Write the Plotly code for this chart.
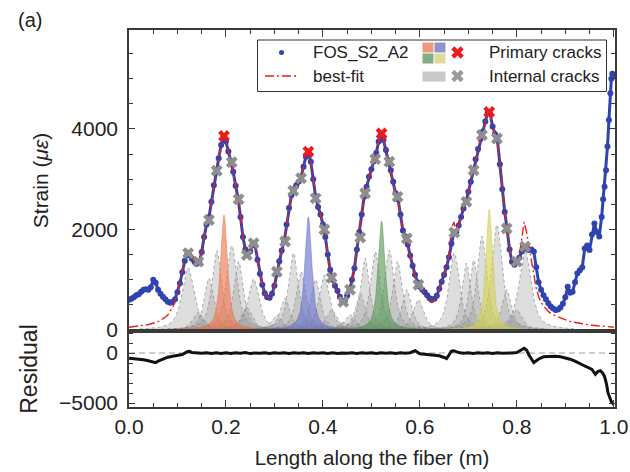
import numpy as np
import plotly.graph_objects as go

# ---------------- data ----------------
# FOS_S2_A2 measured strain (micro-strain), sampled every 0.005 m then a denser tail
fos_x = [round(0.005 * i, 3) for i in range(196)] + [0.978, 0.981, 0.984, 0.987, 0.990, 0.993, 0.995, 0.997, 0.999]
fos_strain = [
    600, 620, 650, 690, 710, 760, 800, 810, 800, 850,
    1000, 940, 800, 720, 660, 610, 560, 540, 560, 610,
    750, 930, 1150, 1380, 1500, 1480, 1420, 1360, 1320, 1360,
    1550, 1850, 2100, 2250, 2550, 2880, 3150, 3420, 3680, 3860,
    3750, 3550, 3370, 3150, 2870, 2620, 2250, 1850, 1600, 1520,
    1560, 1710, 1680, 1400, 1120, 900, 730, 650, 640, 720,
    880, 1120, 1370, 1580, 1760, 2100, 2430, 2680, 2800, 2880,
    2950, 3050, 3250, 3450, 3550, 3350, 3000, 2650, 2450, 2300,
    2100, 1850, 1500, 1200, 1000, 880, 780, 660, 570, 580,
    680, 790, 1000, 1230, 1600, 1950, 2300, 2650, 2850, 3050,
    3200, 3360, 3520, 3750, 3910, 3780, 3580, 3380, 3180, 2950,
    2720, 2600, 2300, 1980, 1860, 1700, 1480, 1280, 1100, 950,
    860, 800, 750, 690, 630, 600, 620, 680, 820, 960,
    1100, 1250, 1450, 1720, 1940, 1950, 2080, 2250, 2420, 2550,
    2750, 2950, 3170, 3400, 3600, 3800, 3950, 4150, 4330, 4300,
    4050, 3900, 3780, 3300, 2800, 2350, 2000, 1600, 1360, 1300,
    1360, 1440, 1560, 1650, 1620, 1590, 1600, 1560, 1250, 950,
    800, 690, 610, 530, 470, 430, 400, 410, 450, 520,
    650, 860, 740, 760, 950, 1130, 1190, 1250, 1620, 1680,
    1590, 1900, 2120, 1950, 1860, 2250,
    2600, 2850, 3180, 3650, 4180, 4710, 5000, 5100, 5050,
]

# best-fit curve (micro-strain) every 0.005 m
fit_x = [round(0.005 * i, 3) for i in range(201)]
fit_strain = [
    55, 60, 65, 70, 75, 85, 95, 100, 110, 120,
    135, 150, 165, 190, 220, 260, 300, 370, 450, 560,
    740, 950, 1200, 1460, 1620, 1560, 1440, 1370, 1330, 1370,
    1550, 1850, 2100, 2250, 2550, 2880, 3150, 3420, 3680, 3860,
    3750, 3550, 3370, 3150, 2870, 2620, 2250, 1850, 1600, 1520,
    1560, 1710, 1680, 1400, 1120, 900, 730, 650, 640, 720,
    880, 1120, 1370, 1580, 1760, 2100, 2430, 2680, 2800, 2880,
    2950, 3050, 3250, 3450, 3550, 3350, 3000, 2650, 2450, 2300,
    2100, 1850, 1500, 1200, 1000, 880, 780, 660, 570, 580,
    680, 790, 1000, 1230, 1600, 1950, 2300, 2650, 2850, 3050,
    3200, 3360, 3520, 3750, 3910, 3780, 3580, 3380, 3180, 2950,
    2720, 2600, 2300, 1980, 1860, 1700, 1480, 1280, 1100, 950,
    860, 800, 720, 640, 570, 550, 590, 670, 820, 960,
    1100, 1260, 1500, 2000, 2150, 1980, 2080, 2250, 2420, 2550,
    2750, 2950, 3170, 3400, 3600, 3800, 3950, 4150, 4330, 4300,
    4050, 3900, 3780, 3300, 2800, 2350, 2000, 1600, 1340, 1300,
    1350, 1480, 1800, 2150, 1950, 1650, 1400, 1100, 830, 660,
    550, 480, 420, 370, 330, 300, 280, 260, 240, 220,
    200, 185, 170, 160, 150, 140, 130, 120, 115, 110,
    100, 95, 90, 85, 80, 75, 70, 65, 62, 60,
    55,
]

# residual (fit - data)
res_x = [0.00, 0.01, 0.02, 0.03, 0.04, 0.05, 0.055, 0.06, 0.07, 0.08, 0.09, 0.10, 0.11, 0.12, 0.125,
         0.13, 0.14, 0.15, 0.16, 0.17, 0.18, 0.19, 0.20, 0.21, 0.22, 0.23, 0.24, 0.25, 0.26, 0.27,
         0.28, 0.29, 0.30, 0.31, 0.32, 0.33, 0.34, 0.35, 0.36, 0.37, 0.38, 0.39, 0.40, 0.41, 0.42,
         0.43, 0.44, 0.45, 0.46, 0.47, 0.48, 0.49, 0.50, 0.51, 0.52, 0.53, 0.54, 0.55, 0.56, 0.57,
         0.58, 0.59, 0.60, 0.61, 0.62, 0.63, 0.64, 0.65, 0.655, 0.66, 0.665, 0.67, 0.68, 0.69, 0.70,
         0.71, 0.72, 0.73, 0.74, 0.75, 0.76, 0.77, 0.78, 0.79, 0.80, 0.81, 0.815, 0.82, 0.825, 0.835,
         0.845, 0.855, 0.87, 0.88, 0.89, 0.90, 0.91, 0.92, 0.93, 0.94, 0.945, 0.95, 0.955, 0.962, 0.967,
         0.972, 0.977, 0.981, 0.985, 0.988, 0.992, 0.995, 1.0]
res_val = [-520, -560, -620, -680, -780, -950, -960, -820, -580, -420, -320, -220, -150, 120, 160,
           40, 0, -20, 30, -40, 20, -50, 30, -40, 20, -30, 40, -60, 10, -30,
           30, -40, 20, -30, 30, -50, 20, -30, 30, -40, 20, -30, 30, -40, 20,
           -60, 10, -30, 30, -40, 20, -30, 30, -40, 20, -30, 30, -40, 20, -30,
           30, 230, -80, -120, -200, -250, -280, -450, -560, -200, 180, 230, 40, -30, 20,
           -40, 30, -30, 20, -40, 30, -30, 20, 0, 40, 380, 480, 300, -200, -950,
           -600, -380, -330, -320, -380, -480, -620, -820, -1100, -1300, -1400, -1500, -1650, -2130, -1850,
           -1770, -2000, -2350, -3100, -3970, -4500, -4870, -5160]

# crack positions (m) and strain at the crack (micro-strain)
primary_x = [0.196, 0.370, 0.521, 0.743]
primary_strain = [3860, 3550, 3910, 4340]
internal_x = [0.122, 0.143, 0.165, 0.181, 0.212, 0.226, 0.243, 0.257, 0.305, 0.322, 0.339,
              0.355, 0.385, 0.403, 0.418, 0.442, 0.456, 0.477, 0.487, 0.508, 0.537, 0.554,
              0.573, 0.597, 0.671, 0.696, 0.711, 0.728, 0.759, 0.779, 0.800, 0.817]
internal_strain = [1530, 1360, 2190, 3170, 3340, 2600, 1490, 1725, 1160, 1760, 2770,
                   3020, 2620, 2000, 1040, 560, 800, 1840, 2720, 3400, 3350, 2650,
                   1820, 900, 1940, 2550, 3180, 3880, 3810, 2020, 1360, 1660]

# fitted peak components: amplitude (micro-strain) and FWHM (m)
primary_amp = [2290, 2250, 2170, 2400]
primary_fwhm = [0.017, 0.017, 0.017, 0.016]
internal_amp = [1230, 350, 1030, 1580, 1680, 1360, 450, 1015, 300, 630, 1530,
                1160, 1000, 1090, 400, 150, 300, 730, 1430, 1560, 1590, 1360,
                800, 600, 1530, 1330, 1390, 1860, 2090, 800, 400, 1590]
internal_fwhm = [0.03, 0.026, 0.024, 0.024, 0.026, 0.024, 0.026, 0.028, 0.026, 0.024, 0.024,
                 0.024, 0.024, 0.026, 0.026, 0.026, 0.026, 0.024, 0.022, 0.024, 0.024, 0.024,
                 0.024, 0.026, 0.026, 0.022, 0.022, 0.024, 0.026, 0.024, 0.026, 0.03]

# ---------------- styling ----------------
FONT = "Liberation Sans, Arial, sans-serif"
TXT = "#222222"
AX = "#3a3a3a"
BLUE = "#2f44b0"
primary_fill = ["rgba(240,115,75,0.62)", "rgba(100,110,200,0.62)",
                "rgba(85,150,85,0.62)", "rgba(210,210,85,0.65)"]
primary_line = ["rgba(235,110,70,0.8)", "rgba(95,105,195,0.8)",
                "rgba(80,145,80,0.8)", "rgba(200,200,80,0.8)"]


def pseudo_voigt(c, a, w):
    xs = np.arange(max(0.0, c - 0.1), min(1.0, c + 0.1) + 1e-9, 0.001)
    d = (xs - c) / (w / 2.0)
    lor = 1.0 / (1.0 + d ** 2)
    gau = np.exp(-np.log(2) * d ** 2)
    return xs, a * (0.75 * lor + 0.25 * gau)


fig = go.Figure()

for c, a, w in zip(internal_x, internal_amp, internal_fwhm):
    xs, ys = pseudo_voigt(c, a, w)
    fig.add_trace(go.Scatter(x=xs, y=ys, mode="lines", fill="tozeroy",
                             fillcolor="rgba(150,150,150,0.32)",
                             line=dict(color="rgba(120,120,120,0.75)", width=0.8, dash="dot"),
                             hoverinfo="skip", showlegend=False, xaxis="x", yaxis="y"))

for c, a, w, fc, lc in zip(primary_x, primary_amp, primary_fwhm, primary_fill, primary_line):
    xs, ys = pseudo_voigt(c, a, w)
    fig.add_trace(go.Scatter(x=xs, y=ys, mode="lines", fill="tozeroy", fillcolor=fc,
                             line=dict(color=lc, width=0.6),
                             hoverinfo="skip", showlegend=False, xaxis="x", yaxis="y"))

fig.add_trace(go.Scatter(x=fos_x, y=fos_strain, mode="lines+markers", name="FOS_S2_A2",
                         line=dict(color=BLUE, width=3),
                         marker=dict(size=6, color=BLUE), showlegend=False,
                         xaxis="x", yaxis="y"))
fig.add_trace(go.Scatter(x=fit_x, y=fit_strain, mode="lines", name="best-fit",
                         line=dict(color="#e8211b", width=1.4, dash="9px,3px,2px,3px"),
                         showlegend=False, xaxis="x", yaxis="y"))
fig.add_trace(go.Scatter(x=internal_x, y=internal_strain, mode="markers", name="Internal cracks",
                         marker=dict(symbol="x", size=10.5, color="#8e8e8e", line=dict(width=0)),
                         showlegend=False, xaxis="x", yaxis="y"))
fig.add_trace(go.Scatter(x=primary_x, y=primary_strain, mode="markers", name="Primary cracks",
                         marker=dict(symbol="x", size=10.5, color="#f01a1a", line=dict(width=0)),
                         showlegend=False, xaxis="x", yaxis="y"))

fig.add_trace(go.Scatter(x=res_x, y=res_val, mode="lines", name="Residual",
                         line=dict(color="#111111", width=3), showlegend=False,
                         xaxis="x2", yaxis="y2"))

# ---------------- layout geometry ----------------
W, H = 630, 472
ML, MR, MT, MB = 129, 15, 30, 65
PW, PH = W - ML - MR, H - MT - MB
split = 76 / PH


def px(p):
    return (p - ML) / PW


def py(p):
    return (H - MB - p) / PH


# manual legend glyph markers on an invisible overlay axis
fig.add_trace(go.Scatter(x=[px(281.5)], y=[py(52.5)], mode="markers",
                         marker=dict(size=5, color=BLUE), showlegend=False,
                         hoverinfo="skip", xaxis="x3", yaxis="y3"))
fig.add_trace(go.Scatter(x=[px(457.5)], y=[py(52.5)], mode="markers",
                         marker=dict(symbol="x", size=11, color="#f01a1a", line=dict(width=0)),
                         showlegend=False, hoverinfo="skip", xaxis="x3", yaxis="y3"))
fig.add_trace(go.Scatter(x=[px(457.5)], y=[py(76)], mode="markers",
                         marker=dict(symbol="x", size=11, color="#9a9a9a", line=dict(width=0)),
                         showlegend=False, hoverinfo="skip", xaxis="x3", yaxis="y3"))

shapes = [
    dict(type="rect", xref="paper", yref="paper", x0=px(257.5), x1=px(606.5), y0=py(91.5), y1=py(40),
         line=dict(color="#333333", width=1), fillcolor="white", layer="below"),
    dict(type="line", xref="paper", yref="paper", x0=px(265), x1=px(298), y0=py(76), y1=py(76),
         line=dict(color="#e8211b", width=1.3, dash="9px,3px,2px,3px")),
    dict(type="rect", xref="paper", yref="paper", x0=px(422.5), x1=px(433.5), y0=py(52.5), y1=py(42.5),
         line=dict(width=0), fillcolor="#f2967c"),
    dict(type="rect", xref="paper", yref="paper", x0=px(434.5), x1=px(445.5), y0=py(52.5), y1=py(42.5),
         line=dict(width=0), fillcolor="#8f95d0"),
    dict(type="rect", xref="paper", yref="paper", x0=px(422.5), x1=px(433.5), y0=py(63.5), y1=py(53.5),
         line=dict(width=0), fillcolor="#83ad84"),
    dict(type="rect", xref="paper", yref="paper", x0=px(434.5), x1=px(445.5), y0=py(63.5), y1=py(53.5),
         line=dict(width=0), fillcolor="#dcdc98"),
    dict(type="rect", xref="paper", yref="paper", x0=px(422.5), x1=px(445.5), y0=py(81.5), y1=py(71.5),
         line=dict(width=0), fillcolor="#c9c9c9"),
    dict(type="line", xref="x2 domain", yref="y2", x0=0, x1=1, y0=0, y1=0,
         line=dict(color="#9a9a9a", width=1, dash="6px,4px"), layer="below"),
]

annotations = [
    dict(text="FOS_S2_A2", x=px(311), y=py(52.5), xref="paper", yref="paper",
         xanchor="left", yanchor="middle", showarrow=False, font=dict(size=17, color=TXT, family=FONT)),
    dict(text="best-fit", x=px(311), y=py(76), xref="paper", yref="paper",
         xanchor="left", yanchor="middle", showarrow=False, font=dict(size=17, color=TXT, family=FONT)),
    dict(text="Primary cracks", x=px(487), y=py(52.5), xref="paper", yref="paper",
         xanchor="left", yanchor="middle", showarrow=False, font=dict(size=17, color=TXT, family=FONT)),
    dict(text="Internal cracks", x=px(487), y=py(76), xref="paper", yref="paper",
         xanchor="left", yanchor="middle", showarrow=False, font=dict(size=17, color=TXT, family=FONT)),
    dict(text="(a)", x=px(30), y=py(20), xref="paper", yref="paper",
         xanchor="center", yanchor="middle", showarrow=False, font=dict(size=20, color=TXT, family=FONT)),
]

common_x = dict(range=[0, 1.0025], showgrid=False, zeroline=False, showline=True, automargin=False,
                linecolor=AX, linewidth=1.5, ticks="inside", ticklen=7, tickwidth=1.2,
                tickcolor=AX, tick0=0, dtick=0.2,
                minor=dict(dtick=0.05, tick0=0, ticks="inside", ticklen=4, tickcolor=AX, tickwidth=1.1))

fig.update_layout(
    width=W, height=H,
    margin=dict(l=ML, r=MR, t=MT, b=MB, autoexpand=False),
    paper_bgcolor="white", plot_bgcolor="rgba(0,0,0,0)",
    font=dict(family=FONT, color=TXT, size=20),
    showlegend=False,
    shapes=shapes, annotations=annotations,
    xaxis=dict(**common_x, domain=[0, 1], anchor="y", side="top", showticklabels=False, mirror=True),
    xaxis2=dict(**common_x, domain=[0, 1], anchor="y2", mirror=True, matches="x",
                tickformat=".1f", tickfont=dict(size=21, color=TXT, family=FONT), ticklabelstandoff=0,
                title=dict(text="Length along the fiber (m)", font=dict(size=20.5, color=TXT, family=FONT),
                           standoff=14)),
    yaxis=dict(domain=[split, 1], anchor="x", range=[-20, 5970], showgrid=False, zeroline=False,
               showline=True, linecolor=AX, linewidth=1.5, mirror="ticks", automargin=False,
               ticks="inside", ticklen=6, tickwidth=1.2, tickcolor=AX, tick0=0, dtick=2000,
               minor=dict(dtick=500, tick0=0, ticks="inside", ticklen=4, tickcolor=AX, tickwidth=1.1),
               tickfont=dict(size=21, color=TXT, family=FONT), ticklabelstandoff=5,
               title=dict(text="Strain (<i>με</i>)", font=dict(size=21, color=TXT, family=FONT),
                          standoff=17)),
    yaxis2=dict(domain=[0, split], anchor="x2", range=[-5400, 2200], showgrid=False, zeroline=False,
                showline=True, linecolor=AX, linewidth=1.5, mirror="ticks", automargin=False,
                ticks="inside", ticklen=6, tickwidth=1.2, tickcolor=AX, tick0=0, dtick=5000,
                minor=dict(dtick=1000, tick0=0, ticks="inside", ticklen=4, tickcolor=AX, tickwidth=1.1),
                tickfont=dict(size=21, color=TXT, family=FONT), ticklabelstandoff=5,
                title=dict(text="Residual", font=dict(size=23, color=TXT, family=FONT), standoff=15)),
    xaxis3=dict(domain=[0, 1], range=[0, 1], visible=False, anchor="y3", fixedrange=True, automargin=False),
    yaxis3=dict(domain=[0, 1], range=[0, 1], visible=False, anchor="x3", fixedrange=True, automargin=False),
)

fig.write_html("out.html")
